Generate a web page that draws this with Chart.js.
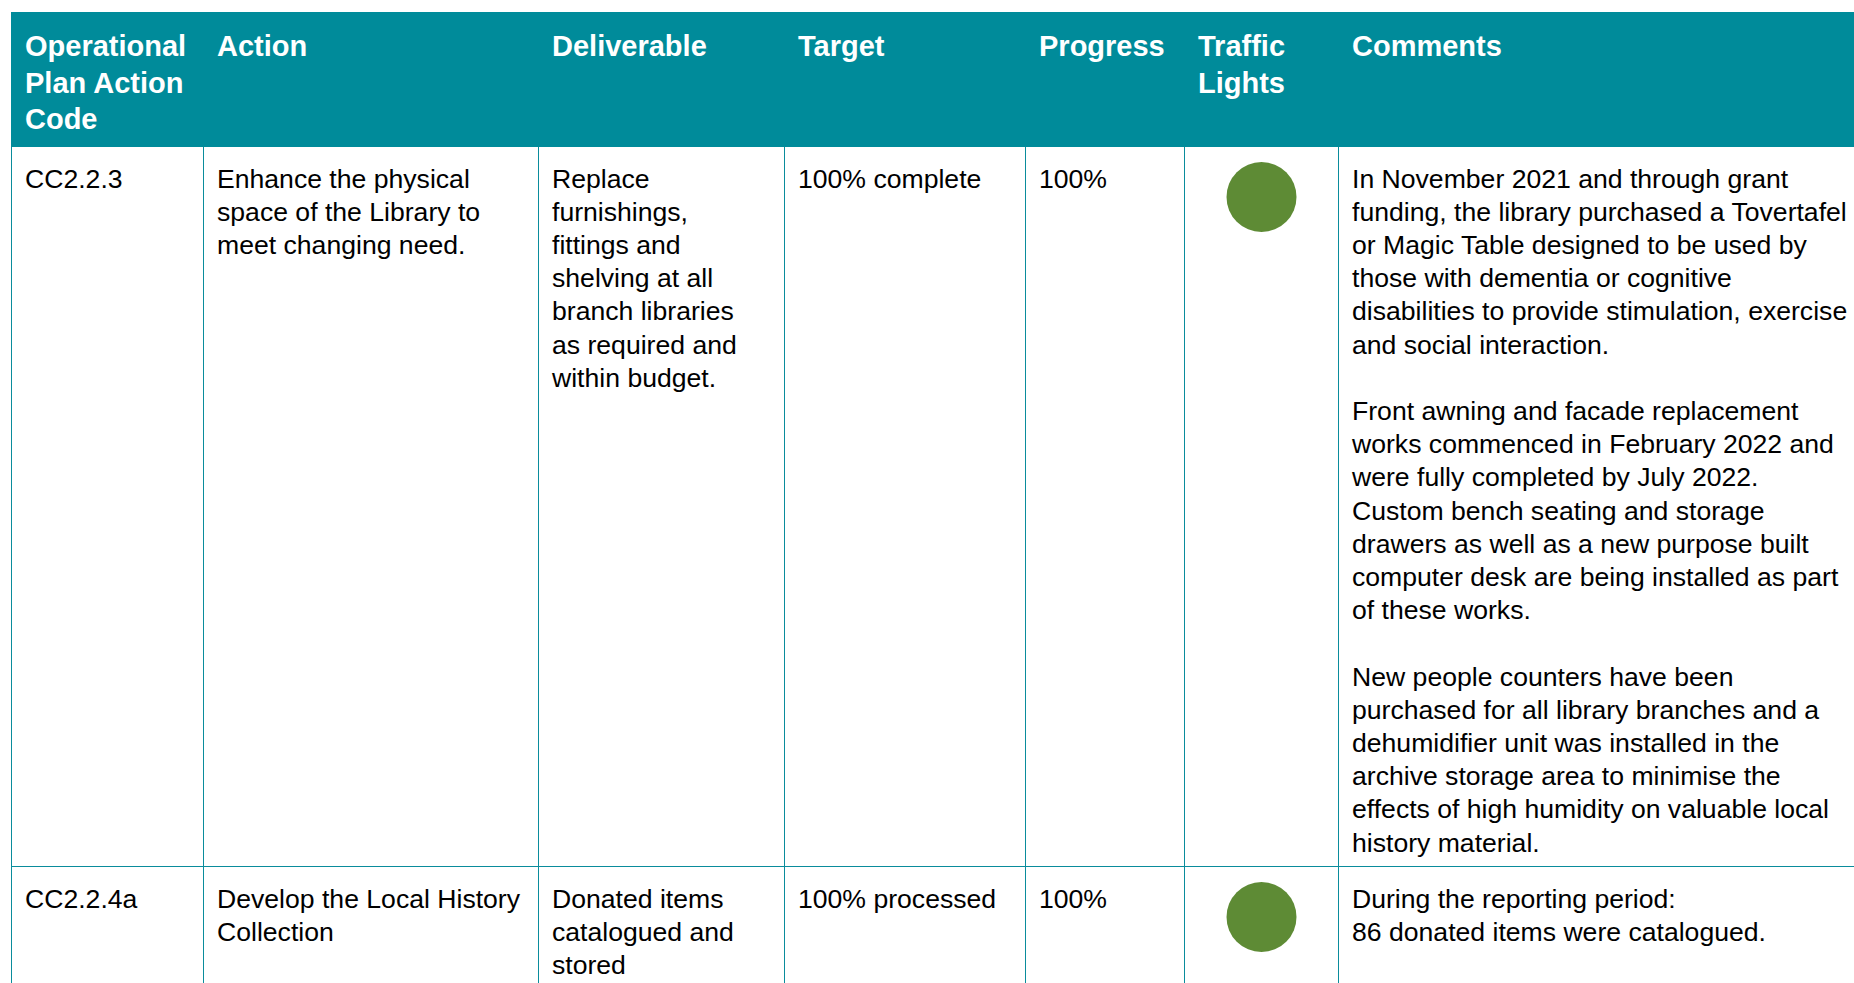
<!DOCTYPE html>
<html lang="en">
<head>
  <meta charset="UTF-8" />
  <title>Operational Plan Progress</title>
  <style>
    html, body {
      margin: 0;
      padding: 0;
      background: #fff;
      overflow: hidden;
      width: 1854px;
      height: 983px;
    }
    body {
      font-family: 'Liberation Sans', Arial, sans-serif;
      color: #000;
    }
    #report {
      position: absolute;
      left: 11px;
      top: 12px;
      display: grid;
      grid-template-columns: 192px 335px 246px 241px 159px 154px 620px;
      grid-template-rows: 135px 720px 320px;
    }
    .cell {
      position: relative;
      box-sizing: border-box;
      padding: 15.5px 8px 0 13px;
      white-space: pre;
      font-size: 26.6px;
      line-height: 33.2px;
      border-left: 1px solid #0a8c9c;
      border-bottom: 1px solid #0a8c9c;
    }
    .head {
      background: #008b9a;
      color: #fff;
      font-weight: bold;
      font-size: 29px;
      line-height: 36.6px;
      border: none;
      padding-top: 16px;
      padding-left: 14px;
    }
    .cell p { margin: 0 0 33.2px 0; }
    .light { padding: 0; }
    .light canvas { position: absolute; left: 0; top: 0; }
  </style>
  <script src="https://cdn.jsdelivr.net/npm/chart.js"></script>
</head>
<body>
  <div id="report"></div>
  <script>
    // table content, one array per column
    const headers = ["Operational\nPlan Action\nCode", "Action", "Deliverable", "Target", "Progress", "Traffic\nLights", "Comments"];
    const codes = ["CC2.2.3", "CC2.2.4a"];
    const actions = [
      "Enhance the physical\nspace of the Library to\nmeet changing need.",
      "Develop the Local History\nCollection"
    ];
    const deliverables = [
      "Replace\nfurnishings,\nfittings and\nshelving at all\nbranch libraries\nas required and\nwithin budget.",
      "Donated items\ncatalogued and\nstored"
    ];
    const targets = ["100% complete", "100% processed"];
    const progress = [100, 100];
    const lights = ["green", "green"];
    const comments = [
      [
        "In November 2021 and through grant\nfunding, the library purchased a Tovertafel\nor Magic Table designed to be used by\nthose with dementia or cognitive\ndisabilities to provide stimulation, exercise\nand social interaction.",
        "Front awning and facade replacement\nworks commenced in February 2022 and\nwere fully completed by July 2022.\nCustom bench seating and storage\ndrawers as well as a new purpose built\ncomputer desk are being installed as part\nof these works.",
        "New people counters have been\npurchased for all library branches and a\ndehumidifier unit was installed in the\narchive storage area to minimise the\neffects of high humidity on valuable local\nhistory material."
      ],
      [
        "During the reporting period:\n86 donated items were catalogued."
      ]
    ];

    const lightColors = { green: "#5e8b35", amber: "#f0a30a", red: "#c0392b" };

    const report = document.getElementById("report");

    function addCell(cls) {
      const div = document.createElement("div");
      div.className = cls;
      report.appendChild(div);
      return div;
    }

    headers.forEach(h => {
      addCell("cell head").textContent = h;
    });

    codes.forEach((code, i) => {
      addCell("cell").textContent = code;
      addCell("cell").textContent = actions[i];
      addCell("cell").textContent = deliverables[i];
      addCell("cell").textContent = targets[i];
      addCell("cell").textContent = progress[i] + "%";

      // traffic light drawn as a single scatter point
      const lightCell = addCell("cell light");
      const canvas = document.createElement("canvas");
      canvas.width = 153;
      canvas.height = 100;
      canvas.style.width = "153px";
      canvas.style.height = "100px";
      lightCell.appendChild(canvas);
      new Chart(canvas.getContext("2d"), {
        type: "scatter",
        data: {
          datasets: [{
            data: [{ x: 0, y: 0 }],
            pointRadius: 35,
            pointHoverRadius: 35,
            backgroundColor: lightColors[lights[i]],
            borderWidth: 0,
            clip: false
          }]
        },
        options: {
          responsive: false,
          maintainAspectRatio: false,
          animation: false,
          layout: { padding: 0 },
          plugins: { legend: { display: false }, tooltip: { enabled: false } },
          scales: {
            x: { display: false, min: -1, max: 1 },
            y: { display: false, min: -1, max: 1 }
          }
        }
      });

      const commentCell = addCell("cell");
      comments[i].forEach(text => {
        const p = document.createElement("p");
        p.textContent = text;
        commentCell.appendChild(p);
      });
    });
  </script>
</body>
</html>
